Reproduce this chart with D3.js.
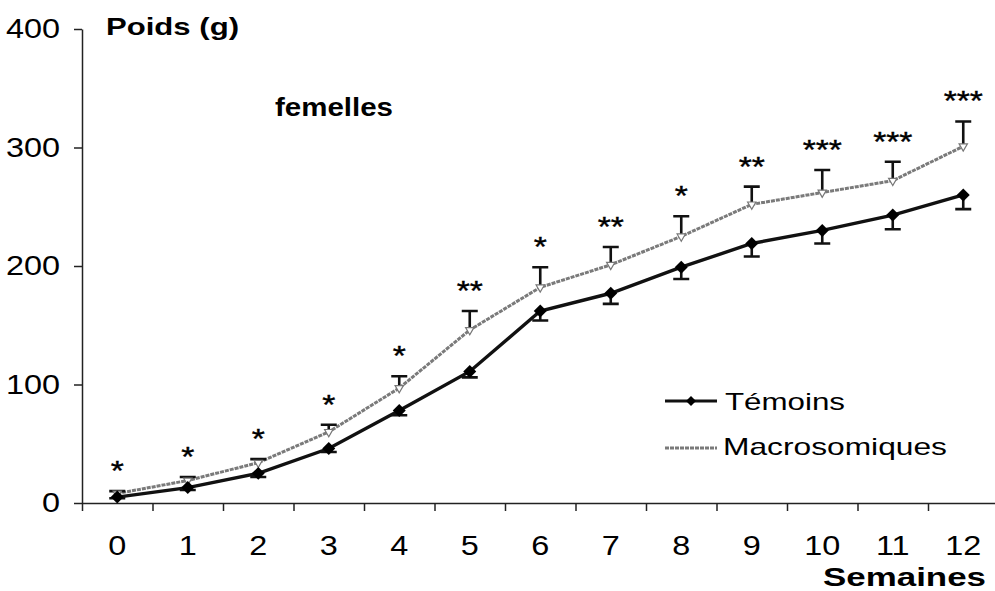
<!DOCTYPE html>
<html>
<head>
<meta charset="utf-8">
<script src="https://cdn.jsdelivr.net/npm/d3@7"></script>
<style>
  body { margin: 0; background: #fff; }
  svg { font-family: "Liberation Sans", Arial, sans-serif; }
</style>
</head>
<body>
<div class="chart"></div>
<script>
// weeks on the x axis
const weeks = [0, 1, 2, 3, 4, 5, 6, 7, 8, 9, 10, 11, 12];
// Témoins (controls), mean weight in g and error (drawn downward)
const temoins = [5, 13, 25, 46, 78, 111, 162, 177, 199, 219, 230, 243, 260];
const temoinsErr = [1, 2, 3, 3, 4, 5, 8, 9, 10, 11, 11, 12, 12];
// Macrosomiques, mean weight in g and error (drawn upward)
const macro = [8, 19, 34, 60, 97, 146, 182, 201, 225, 252, 262, 272, 301];
const macroErr = [2, 3, 3, 6, 10, 16, 17, 15, 17, 15, 19, 16, 21];
// significance marks above each week
const signif = ["*", "*", "*", "*", "*", "**", "*", "**", "*", "**", "***", "***", "***"];
const yTicks = [0, 100, 200, 300, 400];

const width = 995, height = 591;
const SX = 1.2; // text in the picture is a bit wide

const svg = d3.select('.chart').append('svg')
  .attr('width', width).attr('height', height);

const x = d3.scaleBand().domain(weeks).range([82, 998.5]);
const xEdge = d3.scaleLinear().domain([0, weeks.length]).range([82, 998.5]);
const y = d3.scaleLinear().domain([0, 400]).range([503, 29]);

// y axis
const gy = svg.append('g').attr('transform', 'translate(82,0)')
  .call(d3.axisLeft(y).tickValues(yTicks).tickSize(8).tickSizeOuter(0));
gy.selectAll('text')
  .attr('font-size', 27).attr('fill', '#000')
  .attr('x', -22 / SX)
  .attr('transform', `scale(${SX},1)`);

// x axis: ticks at the week edges, labels in the middle
const gx = svg.append('g').attr('transform', 'translate(0,503)')
  .call(d3.axisBottom(xEdge).tickValues(d3.range(0, weeks.length + 1)).tickFormat('').tickSize(8).tickSizeOuter(0));
const gxl = svg.append('g').attr('transform', 'translate(0,503)')
  .call(d3.axisBottom(x).tickSize(0));
gxl.select('.domain').remove();
gxl.selectAll('text')
  .attr('font-size', 27).attr('fill', '#000')
  .attr('y', 52).attr('dy', null)
  .attr('transform', `scale(${SX},1)`);

svg.selectAll('.domain, .tick line').attr('stroke', '#222').attr('stroke-width', 1.5);

const cx = (d, i) => x(weeks[i]) + x.bandwidth() / 2;

// lines
const line = arr => d3.line().x((d, i) => cx(d, i)).y(d => y(d))(arr);

svg.append('path').attr('d', line(macro))
  .attr('fill', 'none').attr('stroke', '#7a7a7a').attr('stroke-width', 3)
  .attr('stroke-dasharray', '4,1');
svg.append('path').attr('d', line(temoins))
  .attr('fill', 'none').attr('stroke', '#111').attr('stroke-width', 3.4);

// error bars
const cap = 8;
svg.append('g').selectAll('path').data(macro)
  .join('path')
  .attr('d', (d, i) => {
    const px = cx(d, i), y0 = y(d), y1 = y(d + macroErr[i]);
    return `M${px},${y0}V${y1}M${px - cap},${y1}H${px + cap}`;
  })
  .attr('fill', 'none').attr('stroke', '#111').attr('stroke-width', 2.6);
svg.append('g').selectAll('path').data(temoins)
  .join('path')
  .attr('d', (d, i) => {
    const px = cx(d, i), y0 = y(d), y1 = y(d - temoinsErr[i]);
    return `M${px},${y0}V${y1}M${px - cap},${y1}H${px + cap}`;
  })
  .attr('fill', 'none').attr('stroke', '#111').attr('stroke-width', 2.6);

// markers
svg.append('g').selectAll('path').data(macro)
  .join('path')
  .attr('d', d3.symbol(d3.symbolTriangle, 30))
  .attr('transform', (d, i) => `translate(${cx(d, i)},${y(d)}) rotate(180)`)
  .attr('fill', '#fff').attr('stroke', '#777').attr('stroke-width', 1.2);
svg.append('g').selectAll('path').data(temoins)
  .join('path')
  .attr('d', d3.symbol(d3.symbolSquare, 84))
  .attr('transform', (d, i) => `translate(${cx(d, i)},${y(d)}) rotate(45)`)
  .attr('fill', '#000');

// significance stars
svg.append('g').selectAll('text').data(signif)
  .join('text')
  .attr('transform', (d, i) => `translate(${cx(d, i)},${y(macro[i] + macroErr[i]) - 11}) scale(${SX},1)`)
  .attr('text-anchor', 'middle')
  .attr('font-size', 28)
  .attr('fill', '#000').attr('stroke', '#000').attr('stroke-width', 0.4)
  .text(d => d);

// titles
svg.append('text').attr('x', 106).attr('y', 35)
  .attr('font-size', 24).attr('font-weight', 'bold')
  .attr('textLength', 133).attr('lengthAdjust', 'spacingAndGlyphs')
  .text('Poids (g)');
svg.append('text').attr('x', 275).attr('y', 116)
  .attr('font-size', 25).attr('font-weight', 'bold')
  .attr('textLength', 118).attr('lengthAdjust', 'spacingAndGlyphs')
  .text('femelles');
svg.append('text').attr('x', 823).attr('y', 586)
  .attr('font-size', 25).attr('font-weight', 'bold')
  .attr('textLength', 163).attr('lengthAdjust', 'spacingAndGlyphs')
  .text('Semaines');

// legend
const legend = svg.append('g');
legend.append('line').attr('x1', 665).attr('x2', 717).attr('y1', 401).attr('y2', 401)
  .attr('stroke', '#111').attr('stroke-width', 3);
legend.append('path').attr('d', d3.symbol(d3.symbolSquare, 50))
  .attr('transform', 'translate(691,401) rotate(45)').attr('fill', '#000');
legend.append('text').attr('x', 725).attr('y', 410)
  .attr('font-size', 24).attr('textLength', 120).attr('lengthAdjust', 'spacingAndGlyphs')
  .text('Témoins');
legend.append('line').attr('x1', 665).attr('x2', 717).attr('y1', 448).attr('y2', 448)
  .attr('stroke', '#7a7a7a').attr('stroke-width', 3).attr('stroke-dasharray', '4,1');
legend.append('text').attr('x', 723).attr('y', 455)
  .attr('font-size', 24).attr('textLength', 224).attr('lengthAdjust', 'spacingAndGlyphs')
  .text('Macrosomiques');
</script>
</body>
</html>
